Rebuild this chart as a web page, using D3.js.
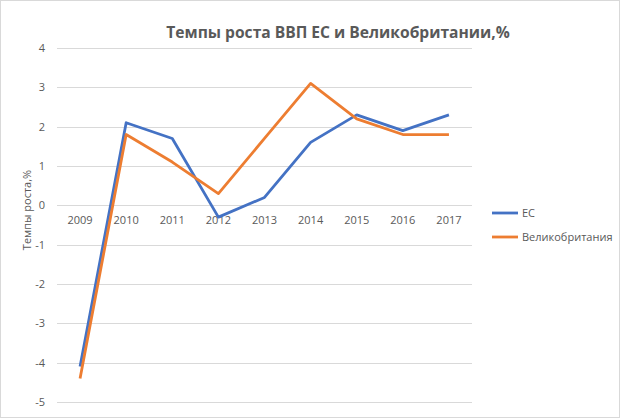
<!DOCTYPE html>
<html>
<head>
<meta charset="utf-8">
<script src="https://cdn.jsdelivr.net/npm/d3@7"></script>
<style>
  body { margin: 0; background: #fff; }
  svg text { font-family: "Open Sans", "Liberation Sans", sans-serif; fill: #595959; }
</style>
</head>
<body>
<div id="chart"></div>
<script>
var years = ["2009", "2010", "2011", "2012", "2013", "2014", "2015", "2016", "2017"];
var euValues = [-4.1, 2.1, 1.7, -0.3, 0.2, 1.6, 2.3, 1.9, 2.3];
var ukValues = [-4.4, 1.8, 1.1, 0.3, 1.7, 3.1, 2.2, 1.8, 1.8];
var yTicks = [4, 3, 2, 1, 0, -1, -2, -3, -4, -5];
var seriesNames = ["ЕС", "Великобритания"];
var seriesColors = ["#4472C4", "#ED7D31"];

(function() {
  var W = 620, H = 418;
  var svg = d3.select("#chart").append("svg")
      .attr("width", W)
      .attr("height", H);

  // outer chart border
  svg.append("rect")
    .attr("x", 0.5).attr("y", 0.5)
    .attr("width", W - 1).attr("height", H - 1)
    .attr("fill", "#fff")
    .attr("stroke", "#d9d9d9");

  var x = d3.scaleBand().domain(years).range([57, 472]);
  var y = d3.scaleLinear().domain([-5, 4]).range([402, 48]);

  // gridlines
  svg.append("g").selectAll("line")
    .data(yTicks)
    .enter().append("line")
    .attr("x1", 57).attr("x2", 472)
    .attr("y1", function(d) { return Math.round(y(d)) + 0.5 })
    .attr("y2", function(d) { return Math.round(y(d)) + 0.5 })
    .attr("stroke", "#d9d9d9")
    .attr("stroke-width", 1);

  // y tick labels
  svg.append("g").selectAll("text")
    .data(yTicks)
    .enter().append("text")
    .text(function(d) { return d })
    .attr("x", 45)
    .attr("y", function(d) { return y(d) + 4 })
    .attr("text-anchor", "end")
    .attr("font-size", "11px");

  // category labels sit just under the zero line
  svg.append("g").selectAll("text")
    .data(years)
    .enter().append("text")
    .text(function(d) { return d })
    .attr("x", function(d) { return x(d) + x.bandwidth() / 2 })
    .attr("y", y(0) + 19)
    .attr("text-anchor", "middle")
    .attr("font-size", "11px");

  var line = d3.line()
    .x(function(d, i) { return x(years[i]) + x.bandwidth() / 2 })
    .y(function(d) { return y(d) });

  [euValues, ukValues].forEach(function(vals, i) {
    svg.append("path")
      .datum(vals)
      .attr("d", line)
      .attr("fill", "none")
      .attr("stroke", seriesColors[i])
      .attr("stroke-width", 2.8)
      .attr("stroke-linejoin", "round");
  });

  // title
  svg.append("text")
    .text("Темпы роста ВВП ЕС и Великобритании,%")
    .attr("x", 338)
    .attr("y", 38)
    .attr("text-anchor", "middle")
    .attr("font-size", "15.6px")
    .style("font-weight", "bold");

  // y axis title
  svg.append("text")
    .text("Темпы роста,%")
    .attr("transform", "translate(31,210) rotate(-90)")
    .attr("text-anchor", "middle")
    .attr("font-size", "11px");

  // legend
  var legend = svg.append("g").selectAll("g")
    .data(seriesNames)
    .enter().append("g")
    .attr("transform", function(d, i) { return "translate(492," + (213 + i * 24) + ")" });

  legend.append("line")
    .attr("x1", 0).attr("x2", 26)
    .attr("stroke", function(d, i) { return seriesColors[i] })
    .attr("stroke-width", 2.8);

  legend.append("text")
    .text(function(d) { return d })
    .attr("x", 30)
    .attr("y", 4)
    .attr("font-size", "11px");
})();
</script>
</body>
</html>
